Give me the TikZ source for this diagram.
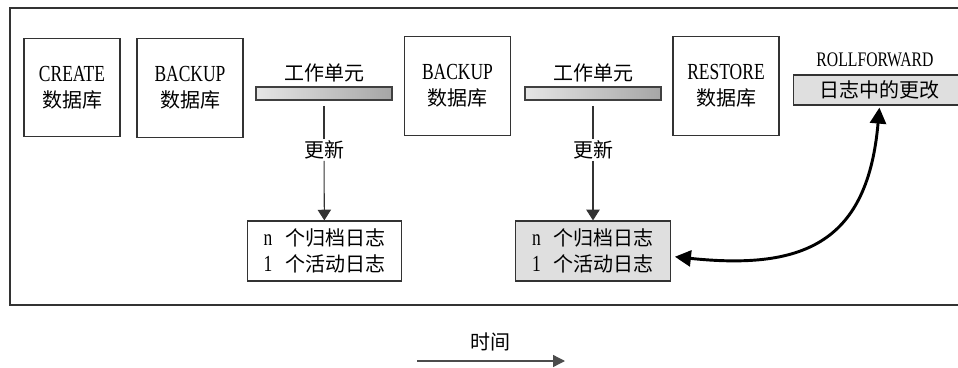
\documentclass[tikz,border=0pt]{standalone}
\usepackage{fontspec}
\setmainfont{Liberation Serif}[Scale=1.15,FakeStretch=0.76]
\newfontfamily\cjk{Noto Sans CJK SC}
\usetikzlibrary{arrows.meta,positioning}

\begin{document}
\begin{tikzpicture}[x=0.75pt,y=-0.75pt,
	dbox/.style={draw=black!80, line width=0.9pt, minimum height=74pt,
		align=center, font=\fontsize{15}{19.5}\selectfont},
	logbox/.style={draw=black!80, line width=0.9pt, minimum width=116pt,
		minimum height=45pt, align=center, font=\fontsize{15}{20}\selectfont},
	unitbar/.style={draw=black!75, line width=0.8pt, left color=gray!20,
		right color=gray!70, minimum width=102pt, minimum height=9.75pt, inner sep=0pt},
	lbl/.style={font=\fontsize{15}{18}\selectfont, inner sep=1pt},
	conn/.style={draw=black!80, line width=0.8pt},
	tip/.style={-{Triangle[length=8pt,width=10pt]}}]
	\useasboundingbox (0,0) rectangle (958,368);
	\draw[draw=black!80, line width=1pt] (10,8) rectangle (990,305);
	% databases
	\node [dbox, minimum width=72pt] (create) at (72,87.5) {CREATE\\{\cjk 数据库}};
	\node [dbox, minimum width=79.5pt] (bak1) at (190,88) {BACKUP\\{\cjk 数据库}};
	\node [dbox, minimum width=80pt] (bak2) at (457.5,86) {BACKUP\\{\cjk 数据库}};
	\node [dbox, minimum width=79.5pt] (rest) at (726,86) {RESTORE\\{\cjk 数据库}};
	% units of work
	\node [unitbar] (bar1) at (324,93.5) {};
	\node [unitbar] (bar2) at (593,93.5) {};
	\node [lbl] (unit1) at (324,73) {\cjk 工作单元};
	\node [lbl] (unit2) at (593,73) {\cjk 工作单元};
	\node [lbl] (upd1) at (324,150) {\cjk 更新};
	\node [lbl] (upd2) at (593,150) {\cjk 更新};
	% logs
	\node [logbox] (log1) at (324.5,251) {n\ \ \ {\cjk 个归档日志}\\1\ \ \ {\cjk 个活动日志}};
	\node [logbox, fill=gray!25] (log2) at (593,251) {n\ \ \ {\cjk 个归档日志}\\1\ \ \ {\cjk 个活动日志}};
	\node [font=\fontsize{13.5}{15}\selectfont] (roll) at (875,60) {ROLLFORWARD};
	\node [draw=black!80, line width=0.9pt, fill=gray!25, anchor=west, minimum width=129pt,
		minimum height=22.5pt, font=\fontsize{15}{18}\selectfont] (chg) at (793,90) {\cjk 日志中的更改};
	\draw[conn, shorten <=4pt] (bar1) -- (upd1);
	\draw[conn, tip] (upd1) -- (log1);
	\draw[conn, shorten <=4pt] (bar2) -- (upd2);
	\draw[conn, tip] (upd2) -- (log2);
	\draw[line width=2.2pt, {Triangle[length=12pt,width=12pt]}-{Triangle[length=12pt,width=12pt]},
		shorten <=3pt, shorten >=1.5pt]
		([yshift=-4pt]log2.east) to[out=-6, in=-95, looseness=1.35] (chg.south);
	% time
	\coordinate (t0) at (417,361);
	\coordinate (t1) at (565,361);
	\node [lbl] (time) at (490,342) {\cjk 时间};
	\draw[draw=black!70, line width=1pt, -{Triangle[length=9pt,width=9pt]}] (t0) -- (t1);
\end{tikzpicture}
\end{document}
